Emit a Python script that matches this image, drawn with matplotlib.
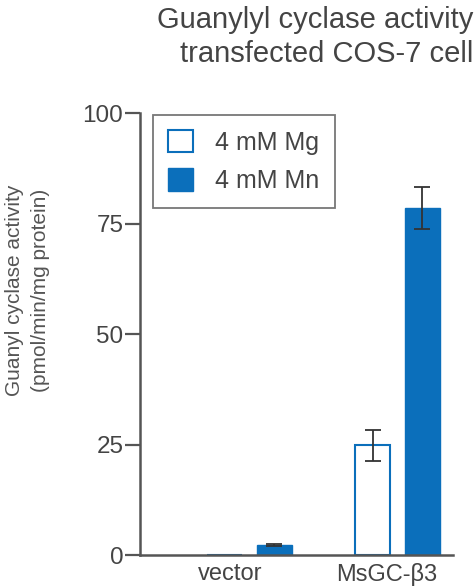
import matplotlib
matplotlib.use("Agg")
import matplotlib.pyplot as plt
from matplotlib.patches import Patch

plt.rcParams['font.family'] = ['Liberation Sans', 'DejaVu Sans']

# data
groups = ['vector', 'MsGC-\u03b23']
mg_values = [0.0, 24.8]
mg_errors = [0.0, 3.5]
mn_values = [2.3, 78.5]
mn_errors = [0.3, 4.7]
yticks = [0, 25, 50, 75, 100]

blue = '#0b6fbb'
grey = '#555555'
text_col = '#444444'

fig = plt.figure(figsize=(4.77, 5.88), dpi=100)
ax = fig.add_axes([0.2935, 0.0561, 0.6562, 0.7517])

x = [0, 1]
w = 0.236
off = 0.166
xm = [i - off for i in x]
xn = [i + off for i in x]

ax.bar(xm, mg_values, width=w, facecolor='white', edgecolor=blue, linewidth=1.5)
ax.bar(xn, mn_values, width=w, facecolor=blue, edgecolor=blue, linewidth=1.0)
ax.errorbar([xm[1]], [mg_values[1]], yerr=[mg_errors[1]], fmt='none', ecolor='#333333',
            elinewidth=1.3, capsize=5.5, capthick=1.3)
ax.errorbar(xn, mn_values, yerr=mn_errors, fmt='none', ecolor='#333333',
            elinewidth=1.3, capsize=5.5, capthick=1.3)

ax.set_xlim(-0.74, 1.375)
ax.set_ylim(0, 100)
ax.set_yticks(yticks)
ax.set_xticks([-0.13, 0.93])
ax.set_xticklabels(groups, fontsize=17, color=text_col)
ax.tick_params(axis='x', length=0, pad=6)
ax.tick_params(axis='y', length=11, width=1.6, color=grey, labelsize=17.5,
               labelcolor=text_col, pad=1)
for s in ['top', 'right']:
    ax.spines[s].set_visible(False)
for s in ['left', 'bottom']:
    ax.spines[s].set_color(grey)
    ax.spines[s].set_linewidth(1.8)

fig.text(0.057, 0.507, 'Guanyl cyclase activity\n(pmol/min/mg protein)', fontsize=15,
         color='#555555', rotation=90, ha='center', va='center', linespacing=1.45)

handles = [Patch(facecolor='white', edgecolor=blue, linewidth=1.5, label='4 mM Mg'),
           Patch(facecolor=blue, edgecolor=blue, label='4 mM Mn')]
leg = fig.legend(handles=handles, loc='upper left', bbox_to_anchor=(153 / 477, 1 - 115 / 588),
                 borderaxespad=0, fontsize=18, frameon=True, fancybox=False,
                 handlelength=1.0, handleheight=1.0, handletextpad=0.9,
                 labelspacing=0.55, borderpad=0.6, labelcolor=text_col)
leg.get_frame().set_edgecolor(grey)
leg.get_frame().set_linewidth(1.3)

fig.text(0.993, 0.99, 'Guanylyl cyclase activity\ntransfected COS-7 cell',
         ha='right', va='top', fontsize=21, color=text_col, linespacing=1.3)

fig.savefig('out.png', dpi=100)
